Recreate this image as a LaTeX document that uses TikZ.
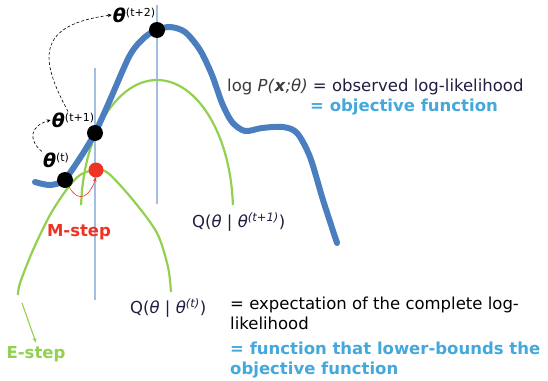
\documentclass[tikz,border=0pt]{standalone}
\usepackage{fontspec}
\setmainfont{DejaVu Sans}
\usetikzlibrary{arrows.meta}
\definecolor{curveblue}{HTML}{4A7EBF}
\definecolor{guideblue}{HTML}{A3BEE2}
\definecolor{boundgreen}{HTML}{92D050}
\definecolor{stepred}{HTML}{EE3325}
\definecolor{textblue}{HTML}{45A8DB}
\definecolor{inknavy}{HTML}{241C40}
\definecolor{inkgray}{HTML}{3C3C3C}
\newcommand{\thsup}[1]{\textbf{\textit{θ}}\raisebox{0.55ex}{\fontsize{11}{12}\selectfont(#1)}}

\begin{document}
\begin{tikzpicture}[x=1pt,y=-1pt,
    guide/.style={guideblue,line width=1.4pt},
    bound/.style={boundgreen,line width=2.2pt},
    dot/.style={circle,fill=black,inner sep=0pt,minimum size=16pt},
    theta/.style={inner sep=1pt,font=\fontsize{19}{20}\selectfont},
    note/.style={anchor=west,inner sep=0pt,align=left,font=\fontsize{16.5}{20}\selectfont},
    jump/.style={densely dashed,line width=0.6pt,-{Stealth[length=4pt,width=3.5pt]}}]
  \useasboundingbox (0,0) rectangle (548,380);
  % vertical guides
  \draw[guide] (95,68) -- (95,300);
  \draw[guide] (157,5) -- (157,204);
  % lower bounds Q
  \draw[bound] plot[smooth] coordinates {(18,295) (20,283) (33,250) (50,215)
    (67,189) (80,175) (95,170) (108,173) (133,200) (157,233) (168,267) (171,292)};
  \draw[bound] plot[domain=177:3,samples=60] ({157+76*cos(\x)},{212-132*sin(\x)});
  % objective log P
  \draw[curveblue,line width=6pt,line cap=round] plot[smooth] coordinates {(35,182)
    (50,185) (64,180) (80,158) (95,133) (110,100) (130,55) (145,37) (157,30)
    (170,27) (185,32) (200,50) (212,75) (222,103) (232,122) (245,131) (262,128)
    (283,127) (297,133) (310,157) (323,200) (337,243)};
  % iterates
  \node[dot] (dotT) at (65,180) {};
  \node[dot] (dotT1) at (95,133) {};
  \node[dot] (dotT2) at (157,30) {};
  \node[dot,fill=stepred,minimum size=15pt] (dotM) at (96,170) {};
  \node[theta] (thT) at (56,160) {\thsup{t}};
  \node[theta] (thT1) at (73,120) {\thsup{t+1}};
  \node[theta] (thT2) at (134,15) {\thsup{t+2}};
  \draw[jump] (thT.north west) .. controls (28,140) and (30,126) .. (thT1.west);
  \draw[jump] ([xshift=-5pt]thT1.north) .. controls (40,60) and (35,25) .. (thT2.west);
  \draw[stepred,line width=0.6pt,-{Stealth[length=4pt,width=3.5pt]}]
    (dotT.-60) .. controls (80,205) and (90,195) .. (dotM.south);
  % step labels
  \node[stepred,font=\fontsize{16.5}{18}\selectfont\bfseries] (mstep) at (79,232) {M-step};
  \node[boundgreen,font=\fontsize{16.5}{18}\selectfont\bfseries] (estep) at (36,354) {E-step};
  \coordinate (qend) at (22,303);
  \draw[boundgreen,line width=1.1pt,-{Stealth[length=5pt,width=4pt]}] (qend) -- (estep.north);
  % texts
  \node[note] (lp) at (227,87) {\textcolor{inkgray}{log \textit{P(}\textbf{\textit{x}}\textit{;θ)}}\textcolor{inknavy}{~= observed log-likelihood}};
  \node[note,textblue,font=\fontsize{16.5}{20}\selectfont\bfseries] (obj) at (310,107) {= objective function};
  \node[note,inknavy] (qt1) at (192,222) {Q(\textit{θ} | \textit{θ}\textsuperscript{\textit{(t+1)}})};
  \node[note,inknavy] (qt) at (130,308) {Q(\textit{θ} | \textit{θ}\textsuperscript{\textit{(t)}})};
  \node[note,black] (expct) at (230,313) {= expectation of the complete log-\\likelihood};
  \node[note,textblue,font=\fontsize{16.5}{20}\selectfont\bfseries] (lowb) at (230,360) {= function that lower-bounds the\\objective function};
\end{tikzpicture}
\end{document}
